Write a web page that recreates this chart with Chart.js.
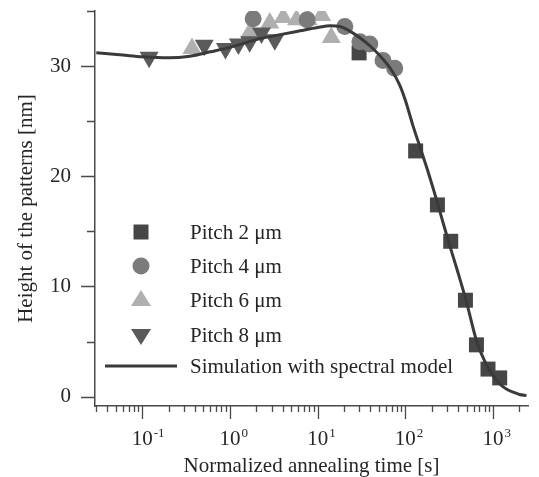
<!DOCTYPE html>
<html lang="en">
<head>
    <meta charset="UTF-8">
    <title>Height of the patterns</title>
    <style>
        body { margin: 0; background: #fff; }
        #wrap { width: 539px; height: 477px; }
    </style>
</head>
<body>
    <div id="wrap"><canvas id="chart" width="539" height="477"></canvas></div>
    <script src="https://cdn.jsdelivr.net/npm/chart.js/dist/chart.umd.min.js"></script>
    <script>
        // data (x = normalized annealing time [s], y = height [nm])
        const pitch2X = [29.7, 131, 232, 329, 484, 646, 875, 1189];
        const pitch2Y = [31.2, 22.3, 17.4, 14.1, 8.75, 4.7, 2.5, 1.7];

        const pitch4X = [1.84, 7.6, 20.4, 30.3, 39.3, 55.7, 75.6];
        const pitch4Y = [34.3, 34.2, 33.6, 32.2, 32.0, 30.5, 29.8];

        const pitch6X = [0.37, 1.7, 2.85, 4.05, 5.75, 7.8, 11.1, 14.3];
        const pitch6Y = [31.6, 33.1, 33.9, 34.4, 34.2, 34.2, 34.6, 32.6];

        const pitch8X = [0.12, 0.51, 0.89, 1.25, 1.68, 2.29, 3.25];
        const pitch8Y = [30.8, 31.9, 31.6, 32.0, 32.2, 33.0, 32.4];

        const simX = [0.03, 0.06, 0.1, 0.2, 0.35, 0.6, 1.0, 2.0, 4.0, 6.3, 10, 14, 18, 23, 30, 40, 56, 70, 86, 100,
            122, 152, 180, 226, 260, 318, 400, 497, 646, 840, 1000, 1190, 1450, 1690, 2000, 2400];
        const simY = [31.2, 31.0, 30.85, 30.75, 30.9, 31.3, 31.7, 32.4, 32.9, 33.2, 33.5, 33.65, 33.6, 33.2, 32.6, 31.8, 30.6, 29.6, 28.3, 26.9,
            24.6, 22.3, 20.5, 17.9, 16.2, 13.8, 11.2, 8.6, 5.1, 2.9, 1.9, 1.15, 0.65, 0.4, 0.2, 0.1];

        const xDecades = [0.1, 1, 10, 100, 1000];
        const xExponents = ['-1', '0', '1', '2', '3'];
        const yTickLabels = [0, 10, 20, 30];

        const legendLabels = ['Pitch 2 \u03bcm', 'Pitch 4 \u03bcm', 'Pitch 6 \u03bcm', 'Pitch 8 \u03bcm', 'Simulation with spectral model'];

        const FONT = "'Liberation Serif', 'Times New Roman', serif";
        const textColor = '#262626';
        const axisColor = '#4a4a4a';
        const c2 = '#464646', c4 = '#7b7b7b', c6 = '#afafaf', c8 = '#5a5a5a', cSim = '#3a3a3a';

        const toPoints = (xs, ys) => xs.map((v, i) => ({ x: v, y: ys[i] }));

        // minor + major tick values for the log axis
        function logTicks(min, max) {
            const out = [];
            for (let e = -3; e <= 4; e++) {
                for (let m = 1; m <= 9; m++) {
                    const v = m * Math.pow(10, e);
                    if (v >= min && v <= max) out.push({ value: v, major: m === 1 });
                }
            }
            return out;
        }

        function marker(ctx, style, cx, cy, color) {
            ctx.fillStyle = color;
            ctx.beginPath();
            if (style === 'rect') {
                ctx.rect(cx - 7.5, cy - 7.5, 15, 15);
            } else if (style === 'circle') {
                ctx.arc(cx, cy, 8.5, 0, Math.PI * 2);
            } else if (style === 'up') {
                ctx.moveTo(cx, cy - 10);
                ctx.lineTo(cx + 10, cy + 6);
                ctx.lineTo(cx - 10, cy + 6);
            } else {
                ctx.moveTo(cx, cy + 10);
                ctx.lineTo(cx + 10, cy - 6);
                ctx.lineTo(cx - 10, cy - 6);
            }
            ctx.closePath();
            ctx.fill();
        }

        // tick marks, decade labels and the in-plot legend
        const decor = {
            id: 'decor',
            afterDraw(chart) {
                const { ctx, chartArea: a, scales: { x, y } } = chart;
                ctx.save();
                ctx.strokeStyle = axisColor;
                ctx.lineWidth = 1.3;
                ctx.beginPath();
                x.ticks.forEach(t => {
                    const px = Math.round(x.getPixelForValue(t.value)) + 0.5;
                    ctx.moveTo(px, a.bottom);
                    ctx.lineTo(px, a.bottom + (t.major ? 13 : 6));
                });
                y.ticks.forEach(t => {
                    const py = Math.round(y.getPixelForValue(t.value)) + 0.5;
                    ctx.moveTo(a.left, py);
                    ctx.lineTo(a.left - (t.major ? 14 : 8), py);
                });
                ctx.stroke();

                ctx.fillStyle = textColor;
                ctx.textBaseline = 'alphabetic';
                xDecades.forEach((d, i) => {
                    const px = x.getPixelForValue(d);
                    ctx.font = '21px ' + FONT;
                    ctx.textAlign = 'center';
                    ctx.fillText('10', px, 445);
                    const w = ctx.measureText('10').width;
                    ctx.font = '13px ' + FONT;
                    ctx.textAlign = 'left';
                    ctx.fillText(xExponents[i], px + w / 2 + 1, 437);
                });

                const styles = ['rect', 'circle', 'up', 'down'];
                const colors = [c2, c4, c6, c8];
                const rowY = [232, 266, 300, 335];
                styles.forEach((s, i) => marker(ctx, s, 141, rowY[i], colors[i]));
                ctx.strokeStyle = cSim;
                ctx.lineWidth = 3;
                ctx.beginPath();
                ctx.moveTo(105, 366);
                ctx.lineTo(177, 366);
                ctx.stroke();

                ctx.fillStyle = textColor;
                ctx.font = '21px ' + FONT;
                ctx.textAlign = 'left';
                ctx.textBaseline = 'middle';
                [232, 266, 300, 335, 366].forEach((ry, i) => ctx.fillText(legendLabels[i], 190, ry + 1));
                ctx.restore();
            }
        };

        const config = {
            type: 'scatter',
            data: {
                datasets: [
                    {
                        label: legendLabels[4],
                        data: toPoints(simX, simY),
                        showLine: true,
                        borderColor: cSim,
                        borderWidth: 3,
                        pointRadius: 0,
                        cubicInterpolationMode: 'monotone',
                        order: 0
                    },
                    {
                        label: legendLabels[1],
                        data: toPoints(pitch4X, pitch4Y),
                        pointStyle: 'circle',
                        pointRadius: 8.5,
                        backgroundColor: c4,
                        borderWidth: 0,
                        order: 1
                    },
                    {
                        label: legendLabels[0],
                        data: toPoints(pitch2X, pitch2Y),
                        pointStyle: 'rect',
                        pointRadius: 10.6,
                        backgroundColor: c2,
                        borderWidth: 0,
                        order: 2
                    },
                    {
                        label: legendLabels[3],
                        data: toPoints(pitch8X, pitch8Y),
                        pointStyle: 'triangle',
                        pointRotation: 180,
                        pointRadius: 11,
                        backgroundColor: c8,
                        borderWidth: 0,
                        order: 3
                    },
                    {
                        label: legendLabels[2],
                        data: toPoints(pitch6X, pitch6Y),
                        pointStyle: 'triangle',
                        pointRadius: 11,
                        backgroundColor: c6,
                        borderWidth: 0,
                        order: 4
                    }
                ]
            },
            options: {
                responsive: false,
                animation: false,
                layout: { padding: { top: 9, right: 11, left: 0, bottom: 0 } },
                plugins: { legend: { display: false }, tooltip: { enabled: false } },
                scales: {
                    x: {
                        type: 'logarithmic',
                        min: 0.029,
                        max: 2500,
                        afterBuildTicks: s => { s.ticks = logTicks(0.029, 2500); },
                        afterFit: s => {
                            s.height = 71;
                            s.paddingLeft = 0; s.paddingRight = 0;
                        },
                        grid: { display: false },
                        border: { color: axisColor, width: 1.5 },
                        ticks: { display: false },
                        title: {
                            display: true,
                            text: 'Normalized annealing time [s]',
                            color: textColor,
                            font: { family: FONT, size: 21, lineHeight: 1 },
                            padding: { top: 0, bottom: 0 }
                        }
                    },
                    y: {
                        min: -0.85,
                        max: 35,
                        afterBuildTicks: s => {
                            s.ticks = [0, 5, 10, 15, 20, 25, 30, 35].map(v => ({ value: v, major: yTickLabels.includes(v) }));
                        },
                        afterFit: s => {
                            s.width = 95;
                            s.paddingTop = 0; s.paddingBottom = 0;
                        },
                        grid: { display: false, drawTicks: true, tickLength: 14 },
                        border: { color: axisColor, width: 1.5 },
                        ticks: {
                            color: textColor,
                            font: { family: FONT, size: 21 },
                            padding: 10,
                            callback: v => yTickLabels.includes(v) ? String(v) : ''
                        },
                        title: {
                            display: true,
                            text: 'Height of the patterns [nm]',
                            color: textColor,
                            font: { family: FONT, size: 21 },
                            padding: { top: 14, bottom: 0 }
                        }
                    }
                }
            },
            plugins: [decor]
        };

        const chart = new Chart(document.getElementById('chart'), config);
    </script>
</body>
</html>
